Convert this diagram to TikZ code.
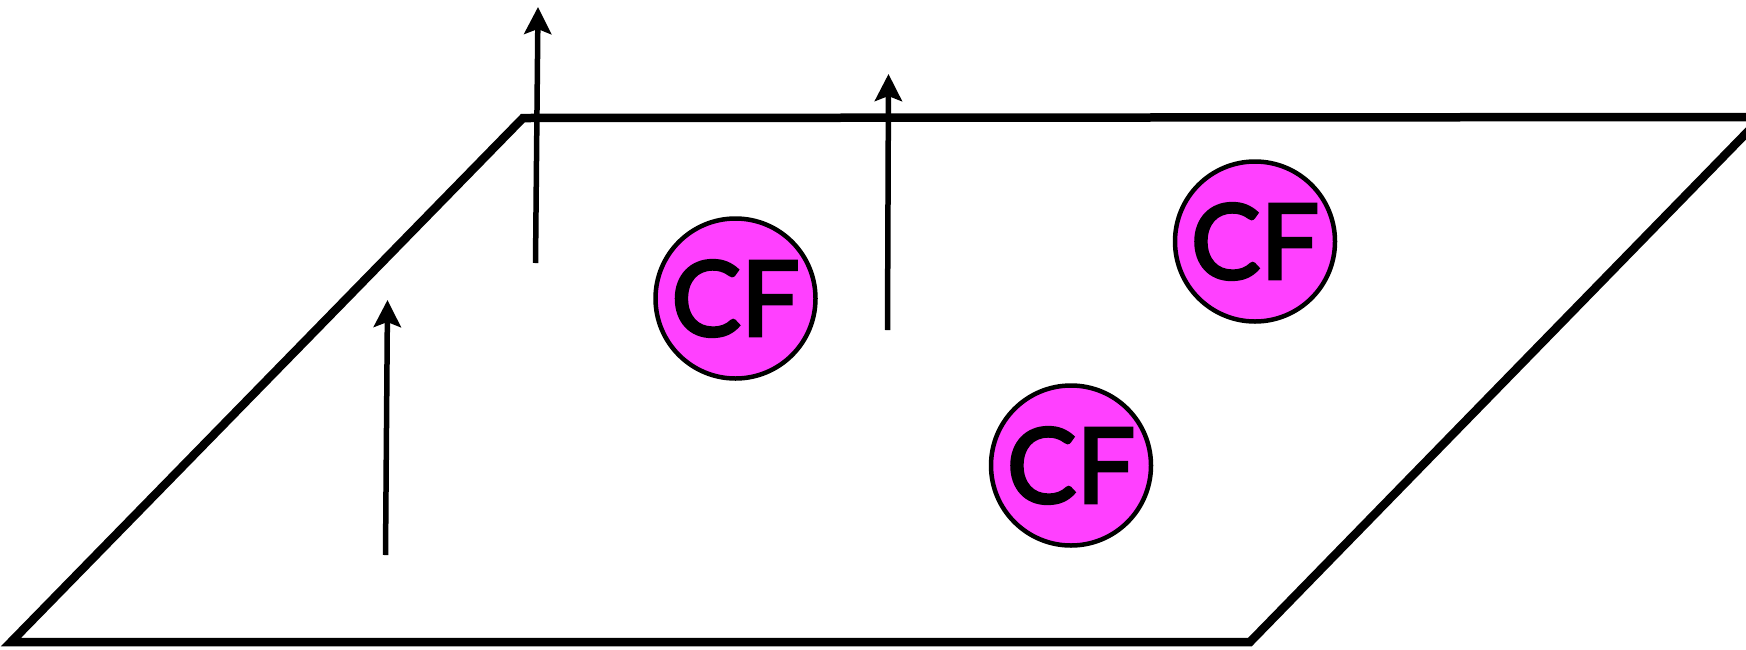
\documentclass[tikz,border=0pt]{standalone}
\usepackage{fontspec}
\setmainfont{Lato}
\newfontfamily\cffont[FakeBold=3]{Lato}
\usetikzlibrary{arrows.meta}
\definecolor{cfpink}{HTML}{FF40FF}
\tikzset{
  plane/.style={line width=8.5pt, line join=miter},
  vec/.style={line width=5.5pt, -{Stealth[length=27pt,width=27pt,inset=5pt]}},
  cf/.style={circle, draw=black, line width=4.5pt, fill=cfpink, minimum size=160pt, inner sep=0pt,
             font=\cffont\fontsize{104}{104}\selectfont}
}
\begin{document}
\begin{tikzpicture}[x=1pt,y=-1pt]
\useasboundingbox (0,0) rectangle (1746,649);
\clip (0,0) rectangle (1746,649);
\coordinate (bl) at (11,642);
\coordinate (br) at (1250,642);
\coordinate (tr) at (1762,117);
\coordinate (tl) at (523,118);
\draw[plane] (bl) -- (br) -- (tr) -- (tl) -- cycle;
\coordinate (a1s) at (385.5,555);
\coordinate (a1e) at (387.5,300);
\coordinate (a2s) at (535.5,263);
\coordinate (a2e) at (538,7);
\coordinate (a3s) at (887.5,330);
\coordinate (a3e) at (888.5,74);
\draw[vec] (a1s) -- (a1e);
\draw[vec] (a2s) -- (a2e);
\draw[vec] (a3s) -- (a3e);
\node[cf] (c1) at (735.5,298.5) {CF};
\node[cf] (c2) at (1255,241.5) {CF};
\node[cf] (c3) at (1071,465.5) {CF};
\end{tikzpicture}
\end{document}
